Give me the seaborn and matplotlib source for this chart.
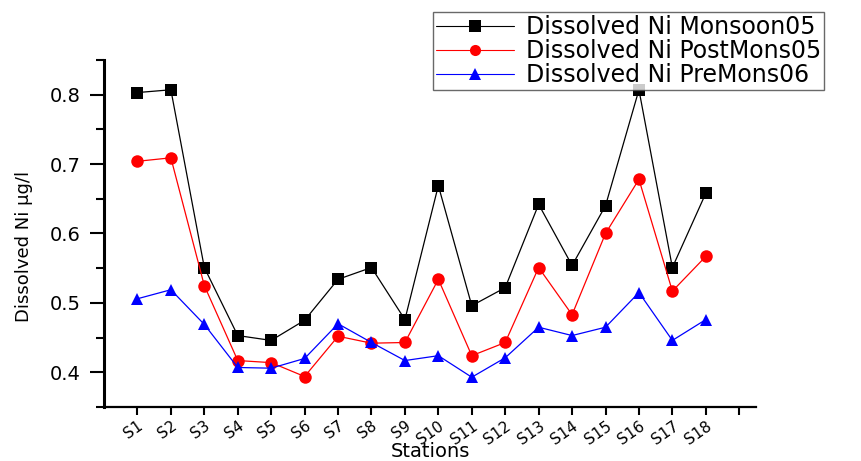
import matplotlib
matplotlib.use("Agg")
import matplotlib.pyplot as plt
import seaborn as sns
import pandas as pd
from matplotlib.ticker import MultipleLocator
from matplotlib.lines import Line2D

stations = [f"S{i}" for i in range(1, 19)]
monsoon05 = [0.803, 0.807, 0.551, 0.453, 0.446, 0.475, 0.534, 0.551, 0.476,
             0.669, 0.496, 0.522, 0.642, 0.554, 0.640, 0.807, 0.551, 0.658]
postmons05 = [0.704, 0.709, 0.525, 0.417, 0.414, 0.394, 0.452, 0.442, 0.443,
              0.534, 0.424, 0.443, 0.551, 0.483, 0.600, 0.678, 0.517, 0.567]
premons06 = [0.506, 0.519, 0.469, 0.407, 0.406, 0.420, 0.470, 0.443, 0.417,
             0.424, 0.393, 0.421, 0.465, 0.453, 0.465, 0.515, 0.446, 0.476]
series_names = ["Dissolved Ni Monsoon05", "Dissolved Ni PostMons05", "Dissolved Ni PreMons06"]

sns.set_style("white")
plt.rcParams['font.family'] = ['DejaVu Sans']
plt.rcParams['text.color'] = 'black'
plt.rcParams['axes.labelcolor'] = 'black'
plt.rcParams['xtick.color'] = 'black'
plt.rcParams['ytick.color'] = 'black'

rows = []
for name, vals in zip(series_names, [monsoon05, postmons05, premons06]):
    for i, v in enumerate(vals):
        rows.append({"pos": i + 1, "Station": stations[i], "value": v, "series": name})
df = pd.DataFrame(rows)

fig = plt.figure(figsize=(8.61, 4.61), dpi=100)
ax = fig.add_axes([0.1208, 0.117, 0.878 - 0.1208, 0.870 - 0.117])

palette = {series_names[0]: "black", series_names[1]: "red", series_names[2]: "blue"}
markers = {series_names[0]: "s", series_names[1]: "o", series_names[2]: "^"}
sns.lineplot(data=df, x="pos", y="value", hue="series", style="series",
             palette=palette, markers=markers, dashes=False, markersize=9,
             linewidth=0.9, markeredgewidth=0, ax=ax, legend=False)

ax.set_xlim(0, 19.5)
ax.set_ylim(0.35, 0.85)
ax.set_xticks(list(range(1, 20)))
ax.set_xticklabels(stations + [""], rotation=35, ha="right", va="top",
                   rotation_mode="anchor", fontsize=11)
ax.yaxis.set_minor_locator(MultipleLocator(0.05))
ax.set_yticks([0.4, 0.5, 0.6, 0.7, 0.8])
ax.set_yticklabels(["0.4", "0.5", "0.6", "0.7", "0.8"], fontsize=14)
ax.tick_params(axis="x", which="major", direction="out", length=6, width=1.5,
               bottom=True, pad=2)
ax.tick_params(axis="y", which="major", direction="out", length=10, width=1.5,
               left=True, pad=7)
ax.tick_params(axis="y", which="minor", direction="out", length=6, width=1.5, left=True)
for s in ["top", "right"]:
    ax.spines[s].set_visible(False)
ax.spines["left"].set_linewidth(2.2)
ax.spines["bottom"].set_linewidth(1.6)
for s in ["left", "bottom"]:
    ax.spines[s].set_color("black")

ax.set_xlabel("Stations", fontsize=14, va="baseline")
ax.xaxis.set_label_coords(0.5, (407 - 456.5) / 347)
ax.set_ylabel("Dissolved Ni \u03bcg/l", fontsize=13)
ax.yaxis.set_label_coords(-0.109, 0.464)

handles = [Line2D([], [], color=palette[n], marker=markers[n], markersize=8,
                  markeredgewidth=0, linewidth=0.8) for n in series_names]
leg = fig.legend(handles, series_names, loc="upper left",
                 bbox_to_anchor=(0.503, 0.974), bbox_transform=fig.transFigure,
                 borderaxespad=0, fontsize=17, frameon=True, fancybox=False,
                 handlelength=3.3, borderpad=0.12, labelspacing=0.0, handletextpad=0.5)
leg.get_frame().set_edgecolor("#444444")
leg.get_frame().set_linewidth(1.0)

fig.savefig("out.png", dpi=100)
